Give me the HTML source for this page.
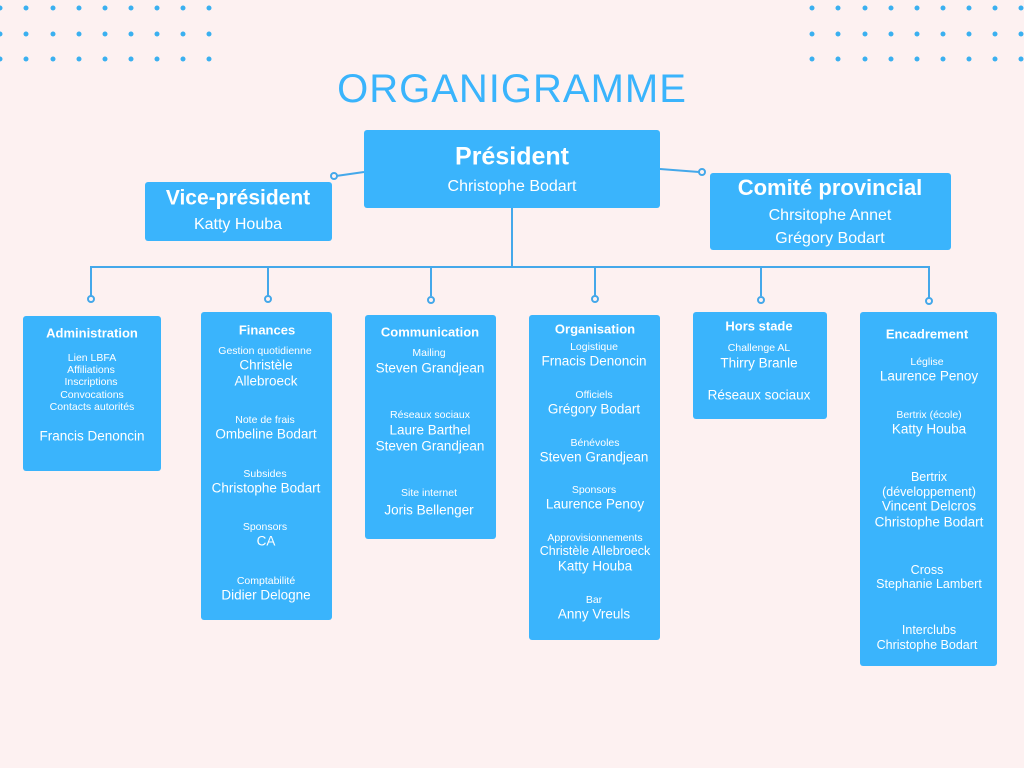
<!DOCTYPE html>
<html><head><meta charset="utf-8"><style>
body{margin:0;width:1024px;height:768px;background:#fdf1f1;position:relative;overflow:hidden;font-family:"Liberation Sans",sans-serif;color:#fff}
.b{position:absolute;background:#3ab4fc;border-radius:3px}
.t{position:absolute;transform:translate(-50%,-50%);white-space:nowrap;text-align:center;line-height:1}
.h{font-weight:bold;font-size:13px}
.s{font-size:10.5px}
.n{font-size:13.5px}
</style></head><body>
<svg width="1024" height="768" style="position:absolute;left:0;top:0">
<g fill="#3ab0f0">
<g id="dl">
<circle cx="0" cy="8" r="2.5"/><circle cx="26" cy="8" r="2.5"/><circle cx="53" cy="8" r="2.5"/><circle cx="79" cy="8" r="2.5"/><circle cx="105" cy="8" r="2.5"/><circle cx="131" cy="8" r="2.5"/><circle cx="157" cy="8" r="2.5"/><circle cx="183" cy="8" r="2.5"/><circle cx="209" cy="8" r="2.5"/>
<circle cx="0" cy="34" r="2.5"/><circle cx="26" cy="34" r="2.5"/><circle cx="53" cy="34" r="2.5"/><circle cx="79" cy="34" r="2.5"/><circle cx="105" cy="34" r="2.5"/><circle cx="131" cy="34" r="2.5"/><circle cx="157" cy="34" r="2.5"/><circle cx="183" cy="34" r="2.5"/><circle cx="209" cy="34" r="2.5"/>
<circle cx="0" cy="59" r="2.5"/><circle cx="26" cy="59" r="2.5"/><circle cx="53" cy="59" r="2.5"/><circle cx="79" cy="59" r="2.5"/><circle cx="105" cy="59" r="2.5"/><circle cx="131" cy="59" r="2.5"/><circle cx="157" cy="59" r="2.5"/><circle cx="183" cy="59" r="2.5"/><circle cx="209" cy="59" r="2.5"/>
</g>
<use href="#dl" x="812"/>
</g>
<g stroke="#44a8ea" stroke-width="2" fill="#fdf1f1">
<line x1="512" y1="208" x2="512" y2="267"/>
<line x1="90" y1="267" x2="930" y2="267"/>
<line x1="91" y1="267" x2="91" y2="296"/><line x1="268" y1="267" x2="268" y2="296"/><line x1="431" y1="267" x2="431" y2="296"/><line x1="595" y1="267" x2="595" y2="296"/><line x1="761" y1="267" x2="761" y2="296"/><line x1="929" y1="267" x2="929" y2="298"/>
<line x1="364" y1="172" x2="336" y2="176"/><line x1="660" y1="169" x2="699" y2="172"/>
<circle cx="91" cy="299" r="3"/><circle cx="268" cy="299" r="3"/><circle cx="431" cy="300" r="3"/><circle cx="595" cy="299" r="3"/><circle cx="761" cy="300" r="3"/><circle cx="929" cy="301" r="3"/>
<circle cx="334" cy="176" r="3"/><circle cx="702" cy="172" r="3"/>
</g>
</svg>
<div class="t" style="left:512px;top:89px;font-size:40px;color:#3ab4fc;letter-spacing:1px">ORGANIGRAMME</div>

<div class="b" style="left:364px;top:130px;width:296px;height:78px"></div>
<div class="t" style="left:512px;top:157px;font-size:25px;font-weight:bold">Président</div>
<div class="t" style="left:512px;top:187px;font-size:16px">Christophe Bodart</div>

<div class="b" style="left:145px;top:182px;width:187px;height:59px"></div>
<div class="t" style="left:238px;top:198px;font-size:21px;font-weight:bold">Vice-président</div>
<div class="t" style="left:238px;top:225px;font-size:16px">Katty Houba</div>

<div class="b" style="left:710px;top:173px;width:241px;height:77px"></div>
<div class="t" style="left:830px;top:188px;font-size:22px;font-weight:bold">Comité provincial</div>
<div class="t" style="left:830px;top:216px;font-size:16px">Chrsitophe Annet</div>
<div class="t" style="left:830px;top:239px;font-size:16px">Grégory Bodart</div>

<!-- Administration -->
<div class="b" style="left:23px;top:316px;width:138px;height:155px"></div>
<div class="t h" style="left:92px;top:333px">Administration</div>
<div class="t s" style="left:92px;top:358px">Lien LBFA</div>
<div class="t s" style="left:91px;top:370px">Affiliations</div>
<div class="t s" style="left:91px;top:382px">Inscriptions</div>
<div class="t s" style="left:92px;top:395px">Convocations</div>
<div class="t s" style="left:92px;top:407px">Contacts autorités</div>
<div class="t n" style="left:92px;top:436px">Francis Denoncin</div>

<!-- Finances -->
<div class="b" style="left:201px;top:312px;width:131px;height:308px"></div>
<div class="t h" style="left:267px;top:330px">Finances</div>
<div class="t s" style="left:265px;top:351px">Gestion quotidienne</div>
<div class="t n" style="left:266px;top:365px">Christèle</div>
<div class="t n" style="left:266px;top:381px">Allebroeck</div>
<div class="t s" style="left:265px;top:420px">Note de frais</div>
<div class="t n" style="left:266px;top:434px">Ombeline Bodart</div>
<div class="t s" style="left:265px;top:474px">Subsides</div>
<div class="t n" style="left:266px;top:488px">Christophe Bodart</div>
<div class="t s" style="left:265px;top:527px">Sponsors</div>
<div class="t n" style="left:266px;top:541px">CA</div>
<div class="t s" style="left:266px;top:581px">Comptabilité</div>
<div class="t n" style="left:266px;top:595px">Didier Delogne</div>

<!-- Communication -->
<div class="b" style="left:365px;top:315px;width:131px;height:224px"></div>
<div class="t h" style="left:430px;top:332px">Communication</div>
<div class="t s" style="left:429px;top:353px">Mailing</div>
<div class="t n" style="left:430px;top:368px">Steven Grandjean</div>
<div class="t s" style="left:430px;top:415px">Réseaux sociaux</div>
<div class="t n" style="left:430px;top:430px">Laure Barthel</div>
<div class="t n" style="left:430px;top:446px">Steven Grandjean</div>
<div class="t s" style="left:429px;top:493px">Site internet</div>
<div class="t n" style="left:429px;top:510px">Joris Bellenger</div>

<!-- Organisation -->
<div class="b" style="left:529px;top:315px;width:131px;height:325px"></div>
<div class="t h" style="left:595px;top:329px">Organisation</div>
<div class="t s" style="left:594px;top:347px">Logistique</div>
<div class="t n" style="left:594px;top:361px">Frnacis Denoncin</div>
<div class="t s" style="left:594px;top:395px">Officiels</div>
<div class="t n" style="left:594px;top:409px">Grégory Bodart</div>
<div class="t s" style="left:595px;top:443px">Bénévoles</div>
<div class="t n" style="left:594px;top:457px">Steven Grandjean</div>
<div class="t s" style="left:594px;top:490px">Sponsors</div>
<div class="t n" style="left:595px;top:504px">Laurence Penoy</div>
<div class="t s" style="left:595px;top:538px">Approvisionnements</div>
<div class="t n" style="left:595px;top:551px;font-size:12.5px">Christèle Allebroeck</div>
<div class="t n" style="left:595px;top:566px">Katty Houba</div>
<div class="t s" style="left:594px;top:600px">Bar</div>
<div class="t n" style="left:594px;top:614px">Anny Vreuls</div>

<!-- Hors stade -->
<div class="b" style="left:693px;top:312px;width:134px;height:107px"></div>
<div class="t h" style="left:759px;top:326px">Hors stade</div>
<div class="t s" style="left:759px;top:348px">Challenge AL</div>
<div class="t n" style="left:759px;top:363px">Thirry Branle</div>
<div class="t n" style="left:759px;top:395px">Réseaux sociaux</div>

<!-- Encadrement -->
<div class="b" style="left:860px;top:312px;width:137px;height:354px"></div>
<div class="t h" style="left:927px;top:334px">Encadrement</div>
<div class="t s" style="left:927px;top:362px">Léglise</div>
<div class="t n" style="left:929px;top:376px">Laurence Penoy</div>
<div class="t s" style="left:929px;top:415px">Bertrix (école)</div>
<div class="t n" style="left:929px;top:429px">Katty Houba</div>
<div class="t n" style="left:929px;top:477px;font-size:12.5px">Bertrix</div>
<div class="t n" style="left:929px;top:492px;font-size:12.5px">(développement)</div>
<div class="t n" style="left:929px;top:506px">Vincent Delcros</div>
<div class="t n" style="left:929px;top:522px">Christophe Bodart</div>
<div class="t n" style="left:927px;top:570px;font-size:12.5px">Cross</div>
<div class="t n" style="left:929px;top:584px;font-size:12.5px">Stephanie Lambert</div>
<div class="t n" style="left:929px;top:630px;font-size:12.5px">Interclubs</div>
<div class="t n" style="left:927px;top:645px;font-size:12.5px">Christophe Bodart</div>
</body></html>
